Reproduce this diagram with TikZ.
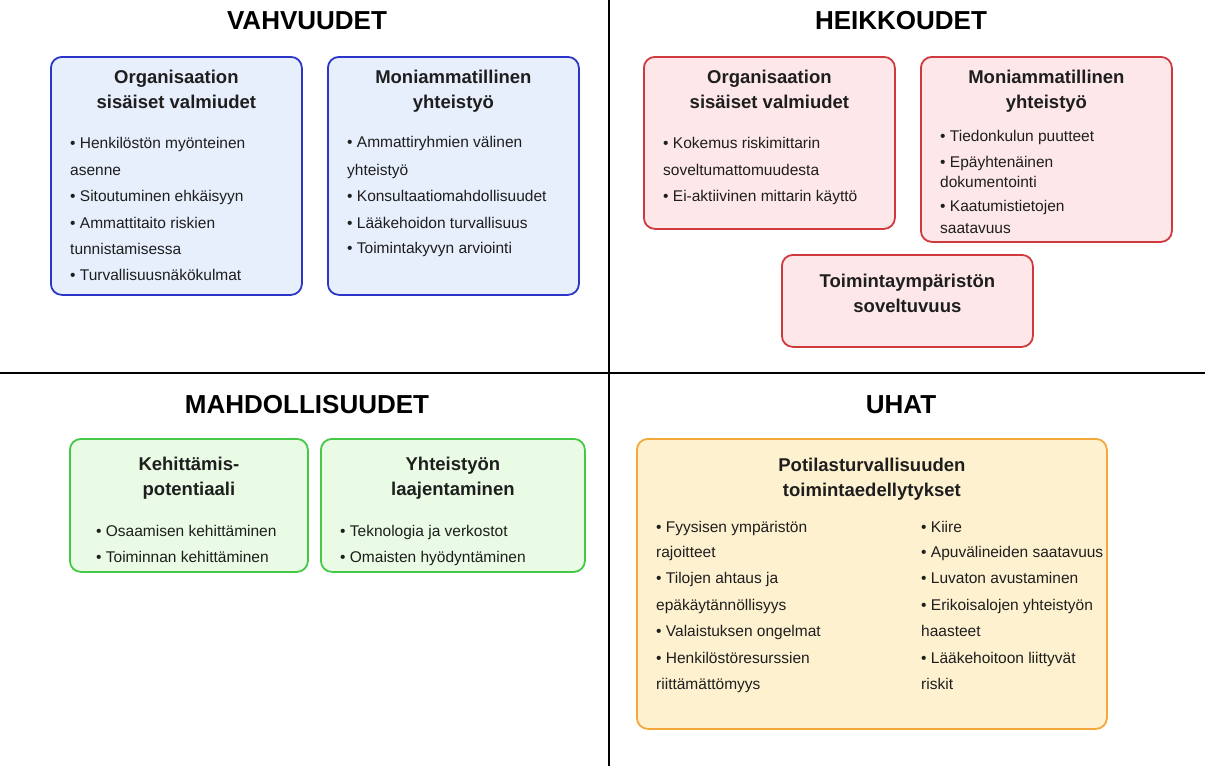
\documentclass[tikz,border=0pt]{standalone}
\usepackage{fontspec}
\setmainfont{Liberation Sans}
\usepackage{xcolor}
\definecolor{sline}{HTML}{2B36C8}
\definecolor{sfill}{HTML}{E7EEFC}
\definecolor{wline}{HTML}{D03A3E}
\definecolor{wfill}{HTML}{FDE7E8}
\definecolor{oline}{HTML}{45C845}
\definecolor{ofill}{HTML}{E9FAE5}
\definecolor{tline}{HTML}{F2A93A}
\definecolor{tfill}{HTML}{FEF1CF}
\definecolor{ink}{HTML}{1E1E1E}
\usetikzlibrary{positioning}
\tikzset{
  card/.style={draw,rounded corners=11pt,line width=1.8pt,anchor=north west,inner sep=0pt},
  scard/.style={card,draw=sline,fill=sfill},
  wcard/.style={card,draw=wline,fill=wfill},
  ocard/.style={card,draw=oline,fill=ofill},
  tcard/.style={card,draw=tline,fill=tfill},
  head/.style={font=\fontsize{26}{30}\selectfont\bfseries,anchor=base,inner sep=0pt},
  ctitle/.style={font=\fontsize{18.5}{25}\selectfont\bfseries,align=center,inner sep=0pt,text=ink},
  item/.style={font=\fontsize{15.5}{19}\selectfont,anchor=base west,inner sep=0pt,text=ink},
  divide/.style={line width=1.8pt,black},
}
\begin{document}
\begin{tikzpicture}[x=1pt,y=-1pt]
\useasboundingbox (0,0) rectangle (1210,766);
% quadrant lines
\draw[divide] (609,0) -- (609,766);
\draw[divide] (0,373) -- (1205,373);
% headings
\node[head] (hs) at (307,29) {VAHVUUDET};
\node[head] (hw) at (901,29) {HEIKKOUDET};
\node[head] (ho) at (307,413) {MAHDOLLISUUDET};
\node[head] (ht) at (901,413) {UHAT};
% strengths
\node[scard,minimum width=251pt,minimum height=238pt] (s1) at (50,56) {};
\node[scard,minimum width=251pt,minimum height=238pt] (s2) at (327,56) {};
\node[ctitle,below=13.5pt of s1.north] (s1t) {Organisaation\\sisäiset valmiudet};
\node[ctitle,below=13.5pt of s2.north] (s2t) {Moniammatillinen\\yhteistyö};
\foreach \y/\t [count=\k] in {148/{• Henkilöstön myönteinen},175/asenne,201/{• Sitoutuminen ehkäisyyn},
  228/{• Ammattitaito riskien},254/tunnistamisessa,280/{• Turvallisuusnäkökulmat}}
  \node[item] (s1-\k) at (70,\y) {\t};
\foreach \y/\t [count=\k] in {147/{• Ammattiryhmien välinen},175/yhteistyö,201/{• Konsultaatiomahdollisuudet},
  228/{• Lääkehoidon turvallisuus},253/{• Toimintakyvyn arviointi}}
  \node[item] (s2-\k) at (347,\y) {\t};
% weaknesses
\node[wcard,minimum width=251pt,minimum height=172pt] (w1) at (643,56) {};
\node[wcard,minimum width=251pt,minimum height=185pt] (w2) at (920,56) {};
\node[wcard,minimum width=251pt,minimum height=92pt] (w3) at (781,254) {};
\node[ctitle,below=13.5pt of w1.north] (w1t) {Organisaation\\sisäiset valmiudet};
\node[ctitle,below=13.5pt of w2.north] (w2t) {Moniammatillinen\\yhteistyö};
\node[ctitle,below=19.5pt of w3.north] (w3t) {Toimintaympäristön\\soveltuvuus};
\foreach \y/\t [count=\k] in {148/{• Kokemus riskimittarin},175/soveltumattomuudesta,201/{• Ei-aktiivinen mittarin käyttö}}
  \node[item] (w1-\k) at (663,\y) {\t};
\foreach \y/\t [count=\k] in {141/{• Tiedonkulun puutteet},167/{• Epäyhtenäinen},187/dokumentointi,
  211/{• Kaatumistietojen},233/saatavuus}
  \node[item] (w2-\k) at (940,\y) {\t};
% opportunities
\node[ocard,minimum width=238pt,minimum height=133pt] (o1) at (69,438) {};
\node[ocard,minimum width=264pt,minimum height=133pt] (o2) at (320,438) {};
\node[ctitle,below=19pt of o1.north] (o1t) {Kehittämis-\\potentiaali};
\node[ctitle,below=19pt of o2.north] (o2t) {Yhteistyön\\laajentaminen};
\foreach \y/\t [count=\k] in {536/{• Osaamisen kehittäminen},562/{• Toiminnan kehittäminen}}
  \node[item] (o1-\k) at (96,\y) {\t};
\foreach \y/\t [count=\k] in {536/{• Teknologia ja verkostot},562/{• Omaisten hyödyntäminen}}
  \node[item] (o2-\k) at (340,\y) {\t};
% threats
\node[tcard,minimum width=470pt,minimum height=290pt] (t1) at (636,438) {};
\node[ctitle,below=20pt of t1.north] (t1t) {Potilasturvallisuuden\\toimintaedellytykset};
\foreach \y/\t [count=\k] in {532/{• Fyysisen ympäristön},557/rajoitteet,583/{• Tilojen ahtaus ja},
  610/epäkäytännöllisyys,636/{• Valaistuksen ongelmat},663/{• Henkilöstöresurssien},689/riittämättömyys}
  \node[item] (t1a-\k) at (656,\y) {\t};
\foreach \y/\t [count=\k] in {532/{• Kiire},557/{• Apuvälineiden saatavuus},583/{• Luvaton avustaminen},
  610/{• Erikoisalojen yhteistyön},636/haasteet,663/{• Lääkehoitoon liittyvät},689/riskit}
  \node[item] (t1b-\k) at (921,\y) {\t};
\end{tikzpicture}
\end{document}
